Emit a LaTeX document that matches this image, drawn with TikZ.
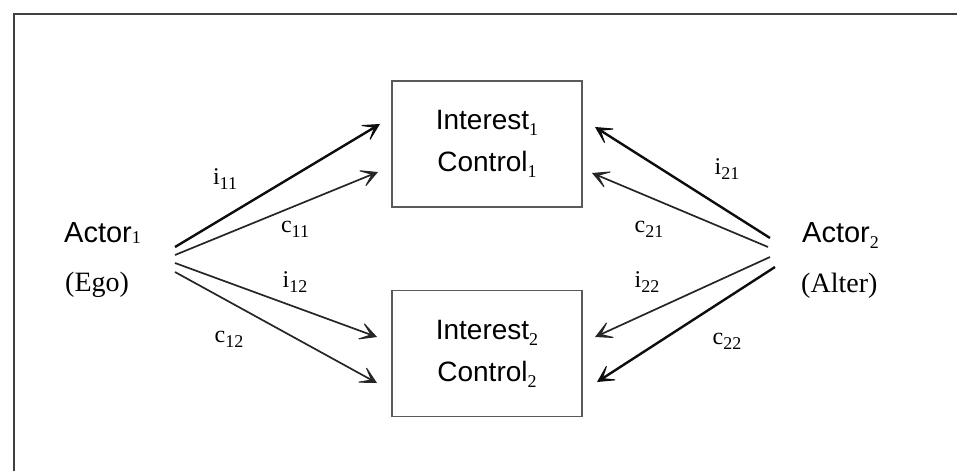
\documentclass[tikz,border=0pt]{standalone}
\usepackage{fontspec}
\setmainfont{Liberation Serif}
\setsansfont{Liberation Sans}
\usetikzlibrary{arrows.meta}
\newcommand{\lbl}[2]{#1\raisebox{-5pt}{\fontsize{18}{18}\selectfont #2}}
\newcommand{\ssub}[2][6pt]{\raisebox{-#1}{\rmfamily\fontsize{18}{18}\selectfont #2}}
\begin{document}
\begin{tikzpicture}[x=1pt,y=-1pt,
  frame/.style={line width=2.4pt,draw=black!75},
  box/.style={draw=black!65,line width=1.5pt,minimum width=190pt,minimum height=126pt,
    align=center,font=\sffamily\fontsize{28}{42}\selectfont,inner sep=0pt},
  actor/.style={font=\sffamily\fontsize{29}{29}\selectfont,anchor=base west,inner sep=0pt},
  role/.style={font=\rmfamily\fontsize{28}{28}\selectfont,anchor=base west,inner sep=0pt},
  lab/.style={font=\rmfamily\fontsize{24}{24}\selectfont,inner sep=0pt},
  arr/.style={draw=black!85,line width=1.7pt,-{Stealth[length=21pt,width=22pt,inset=14pt,line width=1pt]}},
  arrb/.style={arr,draw=black!95,line width=2.4pt}]
\useasboundingbox (0,0) rectangle (957,471);
\draw[frame] (14,471) -- (14,14) -- (957,14);
% boxes
\node[box] (b1) at (487,144) {Interest\ssub{1}\\Control\ssub{1}};
\node[box] (b2) at (487,353.5) {Interest\ssub{2}\\Control\ssub{2}};
% actors
\node[actor] (a1) at (64,242) {Actor\ssub[1pt]{1}};
\node[role] (e1) at (65,291) {(Ego)};
\node[actor] (a2) at (802,242) {Actor\ssub[6pt]{2}};
\node[role] (e2) at (801,292) {(Alter)};
% start and end points
\coordinate (s11) at (175,247);
\coordinate (s12) at (175,255);
\coordinate (s13) at (175,263);
\coordinate (s14) at (175,272);
\coordinate (t11) at (380,124);
\coordinate (t12) at (378,172);
\coordinate (t13) at (377,337);
\coordinate (t14) at (377,383);
\coordinate (s21) at (770,238);
\coordinate (s22) at (768,247);
\coordinate (s23) at (770,257);
\coordinate (s24) at (775,267);
\coordinate (t21) at (595,127);
\coordinate (t22) at (592,173);
\coordinate (t23) at (595,337);
\coordinate (t24) at (597,382);
% arrows
\draw[arrb] (s11) -- (t11);
\draw[arr] (s12) -- (t12);
\draw[arr] (s13) -- (t13);
\draw[arr] (s14) -- (t14);
\draw[arrb] (s21) -- (t21);
\draw[arr] (s22) -- (t22);
\draw[arr] (s23) -- (t23);
\draw[arrb] (s24) -- (t24);
% labels
\node[lab] (li11) at (225,179) {\lbl{i}{11}};
\node[lab] (lc11) at (295,229) {\lbl{c}{11}};
\node[lab] (li12) at (295,282) {\lbl{i}{12}};
\node[lab] (lc12) at (229,339) {\lbl{c}{12}};
\node[lab] (li21) at (727,169) {\lbl{i}{21}};
\node[lab] (lc21) at (649,229) {\lbl{c}{21}};
\node[lab] (li22) at (647,282) {\lbl{i}{22}};
\node[lab] (lc22) at (727,341) {\lbl{c}{22}};
\end{tikzpicture}
\end{document}
